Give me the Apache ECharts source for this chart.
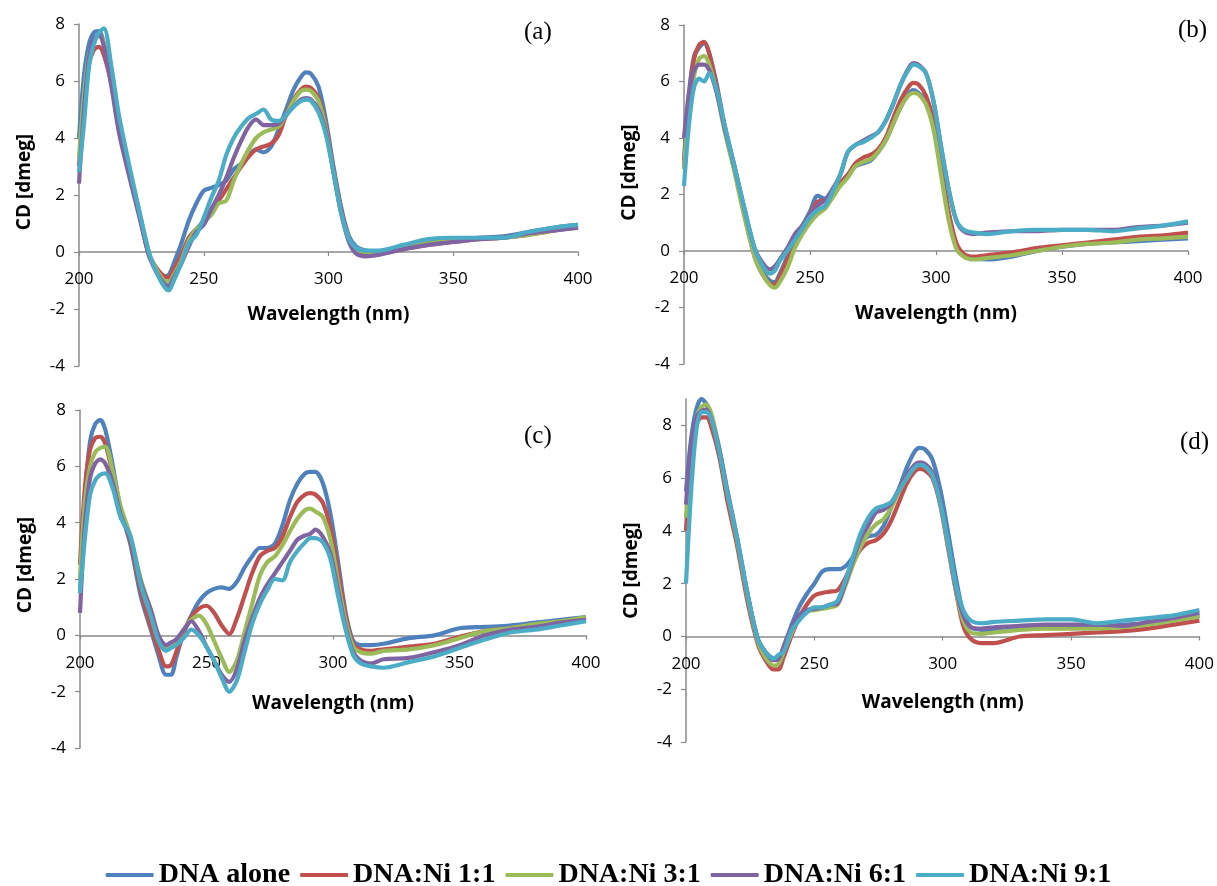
<!DOCTYPE html>
<html>
<head>
<meta charset="utf-8">
<script src="https://cdn.jsdelivr.net/npm/echarts@6/dist/echarts.min.js"></script>
<style>html,body{margin:0;padding:0;background:#fff}#chart{width:1217px;height:886px}</style>
</head>
<body>
<div id="chart"></div>
<script>
// Wavelength sampling (nm)
const wavelengths = [200,202,204,206,208,210,213,216,220,224,228,231,234,236,238,241,244,247,250,253,256,259,262,265,268,271,274,277,280,283,286,289,291,293,296,299,302,305,308,311,315,320,330,340,350,360,370,380,390,400];

const seriesNames = ['DNA alone','DNA:Ni 1:1','DNA:Ni 3:1','DNA:Ni 6:1','DNA:Ni 9:1'];
const seriesColors = ['#4F81BD','#C0504D','#9BBB59','#8064A2','#4BACC6'];
const panelLabels = ['(a)','(b)','(c)','(d)'];
const xTicks = {min:200, max:400, interval:50};
const yRanges = [[-4,8],[-4,8],[-4,8],[-4,9]];

// Panel (a)
const a_alone = [4.0,6.2,7.3,7.7,7.75,7.3,6.0,4.5,2.9,1.4,-0.1,-0.6,-0.85,-0.8,-0.4,0.3,1.1,1.7,2.15,2.25,2.35,2.5,2.9,3.1,3.4,3.6,3.5,3.7,4.3,5.0,5.7,6.15,6.3,6.25,5.8,4.6,3.0,1.6,0.6,0.2,0.05,0.0,0.2,0.35,0.45,0.5,0.55,0.7,0.85,0.95];
const a_ni11  = [3.0,5.2,6.6,7.1,7.2,6.9,5.9,4.5,2.9,1.4,-0.1,-0.55,-0.85,-0.9,-0.6,-0.1,0.5,0.8,1.1,1.5,1.8,2.2,2.6,3.0,3.35,3.6,3.7,3.8,4.1,4.8,5.35,5.7,5.8,5.75,5.4,4.4,2.9,1.5,0.5,0.1,-0.05,-0.05,0.1,0.25,0.35,0.45,0.5,0.6,0.75,0.85];
const a_ni31  = [3.3,5.5,6.9,7.4,7.6,7.3,6.1,4.6,3.0,1.5,0.0,-0.6,-1.0,-1.05,-0.8,-0.3,0.4,0.8,1.05,1.3,1.7,1.8,2.5,3.1,3.6,4.0,4.2,4.3,4.4,4.8,5.3,5.65,5.7,5.65,5.3,4.3,2.8,1.4,0.5,0.1,0.0,0.0,0.15,0.3,0.4,0.45,0.5,0.6,0.75,0.95];
const a_ni61  = [2.4,5.0,6.8,7.5,7.6,7.2,5.8,4.2,2.7,1.3,-0.1,-0.7,-1.1,-1.2,-0.9,-0.4,0.2,0.7,0.95,1.5,2.0,2.6,3.3,3.9,4.4,4.65,4.45,4.45,4.5,4.8,5.1,5.35,5.4,5.35,5.0,4.2,2.8,1.4,0.4,-0.05,-0.15,-0.1,0.1,0.25,0.35,0.45,0.5,0.65,0.75,0.85];
const a_ni91  = [2.8,4.5,6.5,7.3,7.7,7.85,6.5,4.8,3.1,1.5,0.0,-0.7,-1.2,-1.35,-1.0,-0.4,0.3,0.6,1.2,1.9,2.5,3.4,4.0,4.4,4.7,4.85,5.0,4.65,4.6,4.8,5.1,5.3,5.35,5.3,4.9,4.1,2.8,1.4,0.5,0.15,0.05,0.05,0.25,0.45,0.5,0.5,0.5,0.7,0.85,0.95];

// Panel (b)
const b_alone = [3.2,5.6,6.9,7.2,7.35,7.0,5.9,4.5,3.0,1.4,-0.1,-0.7,-1.05,-1.1,-0.8,-0.2,0.4,0.9,1.4,1.95,1.85,2.1,2.4,2.7,3.0,3.1,3.2,3.5,3.9,4.5,5.1,5.55,5.7,5.6,5.3,4.5,2.9,1.3,0.2,-0.15,-0.25,-0.3,-0.2,0.0,0.15,0.25,0.3,0.35,0.4,0.45];
const b_ni11  = [3.0,5.4,6.8,7.3,7.4,7.0,5.8,4.4,2.9,1.3,-0.2,-0.8,-1.15,-1.2,-0.9,-0.3,0.3,0.8,1.3,1.75,1.8,2.05,2.4,2.7,3.1,3.3,3.4,3.6,4.0,4.7,5.35,5.8,5.95,5.9,5.5,4.6,3.0,1.4,0.3,-0.1,-0.2,-0.15,-0.05,0.1,0.2,0.3,0.4,0.5,0.55,0.65];
const b_ni31  = [2.9,5.0,6.2,6.8,6.9,6.6,5.6,4.3,2.8,1.2,-0.2,-0.8,-1.2,-1.3,-1.1,-0.6,0.1,0.6,1.0,1.3,1.5,1.9,2.3,2.6,3.0,3.15,3.25,3.5,3.9,4.5,5.1,5.5,5.6,5.55,5.2,4.3,2.7,1.1,0.1,-0.2,-0.3,-0.25,-0.15,0.0,0.15,0.25,0.3,0.4,0.45,0.5];
const b_ni61  = [4.0,5.6,6.4,6.6,6.6,6.4,5.6,4.4,3.0,1.5,0.1,-0.4,-0.65,-0.55,-0.3,0.1,0.6,0.9,1.3,1.6,1.8,2.2,2.7,3.5,3.75,3.9,4.05,4.2,4.6,5.2,5.9,6.45,6.65,6.6,6.3,5.3,3.7,2.2,1.1,0.7,0.6,0.65,0.7,0.7,0.75,0.75,0.75,0.85,0.9,1.0];
const b_ni91  = [2.3,4.5,5.8,6.1,6.0,6.3,5.7,4.5,3.0,1.5,0.1,-0.5,-0.8,-0.7,-0.35,0.0,0.4,0.8,1.2,1.45,1.6,2.1,2.7,3.5,3.75,3.85,4.0,4.2,4.6,5.2,5.9,6.4,6.6,6.55,6.3,5.3,3.7,2.2,1.1,0.75,0.65,0.6,0.7,0.75,0.75,0.75,0.7,0.8,0.9,1.05];

// Panel (c)
const c_alone = [1.5,5.0,6.9,7.5,7.65,7.3,6.0,4.5,3.2,1.4,0.2,-0.7,-1.4,-1.4,-0.8,0.1,0.7,1.2,1.5,1.65,1.7,1.65,1.9,2.4,2.8,3.1,3.1,3.25,3.9,4.8,5.4,5.75,5.8,5.8,5.4,4.3,2.6,0.8,-0.2,-0.35,-0.35,-0.3,-0.1,0.0,0.25,0.3,0.35,0.45,0.55,0.65];
const c_ni11  = [2.5,5.3,6.6,7.0,7.05,6.8,5.7,4.4,3.3,1.6,0.3,-0.5,-1.1,-1.05,-0.6,0.1,0.65,0.95,1.05,0.8,0.35,0.05,0.6,1.4,2.2,2.8,3.0,3.1,3.5,4.2,4.75,5.0,5.05,5.0,4.7,3.8,2.3,0.7,-0.3,-0.5,-0.55,-0.5,-0.4,-0.3,-0.05,0.15,0.25,0.35,0.5,0.6];
const c_ni31  = [2.0,4.8,6.0,6.5,6.65,6.7,5.8,4.6,3.5,2.0,0.9,0.0,-0.45,-0.4,-0.3,0.2,0.55,0.7,0.4,-0.2,-0.8,-1.3,-0.9,0.1,1.1,2.1,2.6,2.8,3.2,3.7,4.15,4.45,4.5,4.4,4.2,3.4,1.9,0.5,-0.4,-0.6,-0.65,-0.55,-0.5,-0.35,-0.1,0.15,0.25,0.4,0.5,0.65];
const c_ni61  = [0.8,4.0,5.6,6.1,6.25,6.1,5.4,4.3,3.4,1.9,0.9,0.0,-0.35,-0.25,-0.15,0.2,0.5,0.15,-0.4,-0.9,-1.4,-1.65,-1.2,-0.2,0.6,1.3,1.8,2.2,2.6,3.0,3.4,3.55,3.6,3.75,3.5,2.9,1.6,0.3,-0.6,-0.9,-1.0,-0.85,-0.8,-0.6,-0.35,0.0,0.2,0.3,0.45,0.55];
const c_ni91  = [1.5,3.5,5.0,5.5,5.7,5.75,5.2,4.2,3.5,1.8,0.7,-0.2,-0.55,-0.45,-0.35,-0.1,0.2,0.0,-0.4,-0.9,-1.5,-2.0,-1.6,-0.6,0.4,1.1,1.6,2.0,1.95,2.6,3.0,3.3,3.45,3.45,3.3,2.7,1.4,0.2,-0.7,-1.0,-1.1,-1.15,-0.95,-0.75,-0.45,-0.15,0.1,0.2,0.35,0.5];

// Panel (d)
const d_alone = [5.5,7.5,8.6,9.0,8.8,8.2,7.0,5.4,3.6,1.6,-0.1,-0.6,-0.85,-0.9,-0.4,0.4,1.1,1.6,2.0,2.45,2.55,2.55,2.65,3.0,3.5,3.8,3.85,4.2,4.9,5.6,6.4,7.0,7.15,7.1,6.7,5.6,4.0,2.3,0.9,0.35,0.25,0.2,0.3,0.35,0.4,0.35,0.45,0.5,0.65,0.8];
const d_ni11  = [4.0,6.8,8.0,8.3,8.3,7.9,6.8,5.2,3.4,1.3,-0.3,-0.9,-1.25,-1.25,-0.8,0.0,0.7,1.2,1.55,1.65,1.7,1.75,2.2,2.8,3.3,3.55,3.65,3.9,4.4,5.1,5.8,6.25,6.35,6.3,6.0,5.0,3.4,1.8,0.4,-0.1,-0.25,-0.25,0.0,0.05,0.1,0.15,0.2,0.3,0.45,0.6];
const d_ni31  = [4.5,7.0,8.3,8.7,8.8,8.4,7.1,5.5,3.6,1.5,-0.2,-0.8,-1.1,-1.05,-0.6,0.1,0.7,0.95,1.0,1.05,1.1,1.2,1.9,2.7,3.4,3.9,4.25,4.45,4.9,5.5,6.0,6.4,6.5,6.45,6.1,5.1,3.5,1.8,0.6,0.15,0.1,0.15,0.25,0.3,0.3,0.3,0.35,0.45,0.6,0.75];
const d_ni61  = [5.0,7.3,8.3,8.55,8.6,8.2,7.1,5.6,3.7,1.6,-0.1,-0.6,-0.9,-0.85,-0.4,0.3,0.8,1.0,1.05,1.1,1.2,1.25,2.0,2.9,3.7,4.2,4.7,4.8,5.05,5.6,6.1,6.5,6.6,6.55,6.2,5.2,3.6,1.9,0.8,0.35,0.3,0.35,0.4,0.45,0.45,0.45,0.4,0.55,0.7,0.9];
const d_ni91  = [2.0,5.5,7.8,8.5,8.5,8.2,7.0,5.5,3.7,1.6,-0.1,-0.6,-0.85,-0.7,-0.6,0.2,0.6,0.9,1.1,1.1,1.2,1.35,2.1,3.0,3.9,4.5,4.85,4.95,5.1,5.55,6.0,6.4,6.5,6.45,6.1,5.1,3.6,2.0,1.0,0.6,0.5,0.55,0.6,0.65,0.65,0.5,0.6,0.7,0.8,1.0];

const panels = [
  [a_alone,a_ni11,a_ni31,a_ni61,a_ni91],
  [b_alone,b_ni11,b_ni31,b_ni61,b_ni91],
  [c_alone,c_ni11,c_ni31,c_ni61,c_ni91],
  [d_alone,d_ni11,d_ni31,d_ni61,d_ni91]
];

// Layout (pixels)
const grids = [
  {left:79, top:24, width:499, height:342},
  {left:684, top:25, width:504, height:339},
  {left:80, top:410, width:506, height:338},
  {left:686, top:399, width:516, height:343}
];
const labelPos = [
  {left:524, top:20},{left:1178, top:18},{left:524, top:424},{left:1180, top:430}
];
const yNamePad = [26, 44, 28, 0];
const xNameGap = [53, 53, 59, 57];

const axisColor = '#8a8a8a';
const tickFont = {fontFamily:'Open Sans', fontSize:17, color:'#000'};
const nameFont = {fontFamily:'Open Sans', fontSize:19, fontWeight:'bold', color:'#000'};

// x axis drawn at y = 0: shift up from the grid bottom by the share of the range below zero
const zeroOffset = i => -grids[i].height * (0 - yRanges[i][0]) / (yRanges[i][1] - yRanges[i][0]);

const option = {
  animation:false,
  backgroundColor:'#fff',
  title: panelLabels.map((t,i)=>({
    text:t, left:labelPos[i].left, top:labelPos[i].top, padding:0,
    textStyle:{fontFamily:'Liberation Serif', fontSize:25, fontWeight:'normal', color:'#000'}
  })),
  legend:{
    data:seriesNames, left:'center', top:856,
    icon:'roundRect', itemWidth:48, itemHeight:4, itemGap:10,
    textStyle:{fontFamily:'Liberation Serif', fontSize:28, fontWeight:'bold', color:'#000'}
  },
  grid: grids,
  xAxis: grids.map((g,i)=>({
    type:'value', gridIndex:i, min:xTicks.min, max:xTicks.max, interval:xTicks.interval,
    position:'bottom', offset: zeroOffset(i),
    name:'Wavelength (nm)', nameLocation:'middle', nameGap:xNameGap[i], nameTextStyle:nameFont,
    axisLine:{show:true, onZero:false, lineStyle:{color:axisColor, width:1.5}},
    axisTick:{show:true, inside:false, length:4, lineStyle:{color:axisColor, width:1.2}},
    axisLabel:{margin:19, ...tickFont},
    splitLine:{show:false}
  })),
  yAxis: grids.map((g,i)=>({
    type:'value', gridIndex:i, min:yRanges[i][0], max:yRanges[i][1], interval:2,
    name:'CD [dmeg]', nameLocation:'middle', nameGap:45,
    nameTextStyle:{...nameFont, padding:[0,0,0,yNamePad[i]]},
    axisLine:{show:true, onZero:false, lineStyle:{color:axisColor, width:1.5}},
    axisTick:{show:true, inside:false, length:5, lineStyle:{color:axisColor, width:1.2}},
    axisLabel:{margin:14, showMaxLabel: i===3 ? false : true, ...tickFont},
    splitLine:{show:false}
  })),
  series: []
};

panels.forEach((vals,p)=>{
  vals.forEach((arr,k)=>{
    option.series.push({
      type:'line', name:seriesNames[k], xAxisIndex:p, yAxisIndex:p,
      data: wavelengths.map((w,j)=>[w, arr[j]]),
      showSymbol:false, smooth:0.3,
      lineStyle:{color:seriesColors[k], width:4.2},
      itemStyle:{color:seriesColors[k]},
      z: 2
    });
  });
});

const chart = echarts.init(document.getElementById('chart'), null, {renderer:'canvas'});
chart.setOption(option);
</script>
</body>
</html>
